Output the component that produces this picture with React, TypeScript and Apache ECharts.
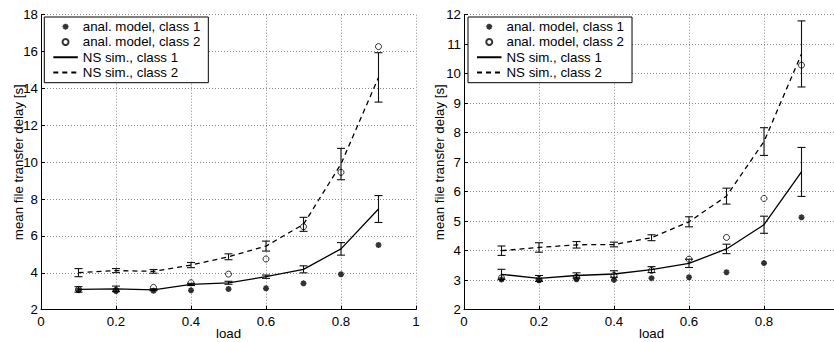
import React, { useEffect, useRef } from "react";
import * as echarts from "echarts";

const load = [0.1, 0.2, 0.3, 0.4, 0.5, 0.6, 0.7, 0.8, 0.9];

const leftAnal1 = [3.05, 3.03, 3.03, 3.05, 3.12, 3.16, 3.43, 3.92, 5.51];
const leftAnal2 = [3.1, 3.05, 3.21, 3.46, 3.93, 4.75, 6.5, 9.45, 16.27];
const leftSim1 = [3.1, 3.13, 3.08, 3.37, 3.46, 3.79, 4.19, 5.3, 7.46];
const leftSim1Err = [0.15, 0.15, 0.05, 0.06, 0.08, 0.09, 0.19, 0.34, 0.73];
const leftSim2 = [4.01, 4.12, 4.08, 4.42, 4.87, 5.45, 6.63, 9.9, 14.6];
const leftSim2Err = [0.22, 0.11, 0.1, 0.14, 0.16, 0.27, 0.38, 0.85, 1.34];

const rightAnal1 = [3.02, 3.0, 3.03, 3.01, 3.07, 3.1, 3.27, 3.58, 5.13];
const rightAnal2 = [3.08, 3.03, 3.1, 3.16, 3.33, 3.71, 4.45, 5.77, 10.29];
const rightSim1 = [3.2, 3.06, 3.16, 3.21, 3.36, 3.57, 4.06, 4.88, 6.67];
const rightSim1Err = [0.17, 0.1, 0.09, 0.11, 0.1, 0.14, 0.16, 0.29, 0.83];
const rightSim2 = [4.0, 4.11, 4.2, 4.21, 4.44, 4.98, 5.85, 7.7, 10.67];
const rightSim2Err = [0.16, 0.16, 0.11, 0.08, 0.1, 0.17, 0.27, 0.47, 1.12];

const names = [
  "anal. model, class 1",
  "anal. model, class 2",
  "NS sim., class 1",
  "NS sim., class 2",
];

const xLabel = "load";
const yLabel = "mean file transfer delay [s]";

const FONT = "'Liberation Sans', Arial, Helvetica, sans-serif";
const FS = 13.3;

const STAR =
  "path://M-1.4,-5 L1.4,-5 L1.4,5 L-1.4,5 Z M-5,-1.4 L5,-1.4 L5,1.4 L-5,1.4 Z M-2.5,-4.5 L4.5,2.5 L2.5,4.5 L-4.5,-2.5 Z M2.5,-4.5 L4.5,-2.5 L-2.5,4.5 L-4.5,2.5 Z";

const pairs = (ys: number[]) => load.map((x, i) => [x, ys[i]]);
const errs = (ys: number[], es: number[]) =>
  load.map((x, i) => [x, ys[i] - es[i], ys[i] + es[i]]);

const errRender = (params: any, api: any) => {
  const x = api.value(0);
  const lo = api.value(1);
  const hi = api.value(2);
  const top = api.coord([x, hi]);
  const bot = api.coord([x, lo]);
  const w = 4;
  const style = { stroke: "#111", lineWidth: 1.1 };
  return {
    type: "group",
    children: [
      { type: "line", shape: { x1: top[0], y1: top[1], x2: bot[0], y2: bot[1] }, style },
      { type: "line", shape: { x1: top[0] - w, y1: top[1], x2: top[0] + w, y2: top[1] }, style },
      { type: "line", shape: { x1: bot[0] - w, y1: bot[1], x2: bot[0] + w, y2: bot[1] }, style },
    ],
  };
};

function makeSeries(
  idx: number,
  a1: number[],
  a2: number[],
  s1: number[],
  e1: number[],
  s2: number[],
  e2: number[]
) {
  return [
    {
      type: "line",
      name: names[2],
      xAxisIndex: idx,
      yAxisIndex: idx,
      data: pairs(s1),
      symbol: "none",
      lineStyle: { color: "#000", width: 1.3, type: "solid" },
      itemStyle: { color: "#000" },
      z: 3,
    },
    {
      type: "line",
      name: names[3],
      xAxisIndex: idx,
      yAxisIndex: idx,
      data: pairs(s2),
      symbol: "none",
      lineStyle: { color: "#000", width: 1.3, type: [5, 4] },
      itemStyle: { color: "#000" },
      z: 3,
    },
    {
      type: "custom",
      xAxisIndex: idx,
      yAxisIndex: idx,
      data: errs(s1, e1),
      renderItem: errRender,
      encode: { x: 0, y: [1, 2] },
      silent: true,
      z: 3,
    },
    {
      type: "custom",
      xAxisIndex: idx,
      yAxisIndex: idx,
      data: errs(s2, e2),
      renderItem: errRender,
      encode: { x: 0, y: [1, 2] },
      silent: true,
      z: 3,
    },
    {
      type: "scatter",
      name: names[0],
      xAxisIndex: idx,
      yAxisIndex: idx,
      data: pairs(a1),
      symbol: STAR,
      symbolSize: 6,
      itemStyle: { color: "#000" },
      z: 4,
    },
    {
      type: "scatter",
      name: names[1],
      xAxisIndex: idx,
      yAxisIndex: idx,
      data: pairs(a2),
      symbol: "circle",
      symbolSize: 6,
      itemStyle: { color: "rgba(0,0,0,0)", borderColor: "#000", borderWidth: 1 },
      z: 4,
    },
  ];
}

const gridLine = { show: true, lineStyle: { color: "#888", type: [1, 2], width: 1 } };

function xAxis(idx: number, showMax: boolean) {
  return {
    type: "value",
    gridIndex: idx,
    min: 0,
    max: 1,
    interval: 0.2,
    name: xLabel,
    nameLocation: "middle",
    nameGap: 17.5,
    nameMoveOverlap: false,
    nameTextStyle: { fontSize: FS, fontFamily: FONT, color: "#000" },
    axisLine: { show: true, onZero: false, lineStyle: { color: "#000", width: 1 } },
    axisTick: { show: true, inside: true, length: 4, lineStyle: { color: "#000" } },
    axisLabel: {
      fontSize: FS,
      fontFamily: FONT,
      color: "#000",
      margin: 5,
      showMaxLabel: showMax,
    },
    splitLine: gridLine,
  };
}

function yAxis(idx: number, min: number, max: number, interval: number, gap: number) {
  return {
    type: "value",
    gridIndex: idx,
    min,
    max,
    interval,
    name: yLabel,
    nameLocation: "middle",
    nameGap: gap,
    nameMoveOverlap: false,
    nameTextStyle: { fontSize: FS, fontFamily: FONT, color: "#000" },
    axisLine: { show: true, lineStyle: { color: "#000", width: 1 } },
    axisTick: { show: true, inside: true, length: 4, lineStyle: { color: "#000" } },
    axisLabel: { fontSize: FS, fontFamily: FONT, color: "#000", margin: 3 },
    splitLine: gridLine,
  };
}

const hiddenSym = { color: "rgba(0,0,0,0)", borderColor: "rgba(0,0,0,0)", borderWidth: 0 };

function legend(left: number) {
  return {
    left,
    top: 17,
    orient: "vertical",
    itemWidth: 24.5,
    itemHeight: 6,
    itemGap: 0,
    padding: [2, 8, 2.5, 8],
    borderColor: "#000",
    borderWidth: 1,
    borderRadius: 0,
    backgroundColor: "#fff",
    selectedMode: false,
    textStyle: { fontSize: FS, fontFamily: FONT, color: "#000", lineHeight: 15.3 },
    data: [
      { name: names[0] },
      { name: names[1] },
      { name: names[2], itemStyle: hiddenSym },
      { name: names[3], itemStyle: hiddenSym },
    ],
  };
}

export default function App() {
  const ref = useRef<HTMLDivElement>(null);
  useEffect(() => {
    if (!ref.current) return;
    const chart = echarts.init(ref.current, undefined, { renderer: "svg" });
    chart.setOption({
      animation: false,
      backgroundColor: "#fff",
      grid: [
        { left: 41, top: 14.7, width: 375, height: 295, outerBoundsMode: "none" },
        { left: 464, top: 14.7, width: 375, height: 295, outerBoundsMode: "none" },
      ],
      xAxis: [xAxis(0, true), xAxis(1, false)],
      yAxis: [yAxis(0, 2, 18, 2, 16.5), yAxis(1, 2, 12, 1, 18)],
      legend: [legend(44.3), legend(468)],
      series: [
        ...makeSeries(0, leftAnal1, leftAnal2, leftSim1, leftSim1Err, leftSim2, leftSim2Err),
        ...makeSeries(1, rightAnal1, rightAnal2, rightSim1, rightSim1Err, rightSim2, rightSim2Err),
      ],
    });
    return () => chart.dispose();
  }, []);
  return (
    <div
      style={{
        position: "absolute",
        left: 0,
        top: 0,
        width: 834,
        height: 342,
        overflow: "hidden",
        background: "#fff",
      }}
    >
      <div ref={ref} style={{ width: 860, height: 342 }} />
    </div>
  );
}
